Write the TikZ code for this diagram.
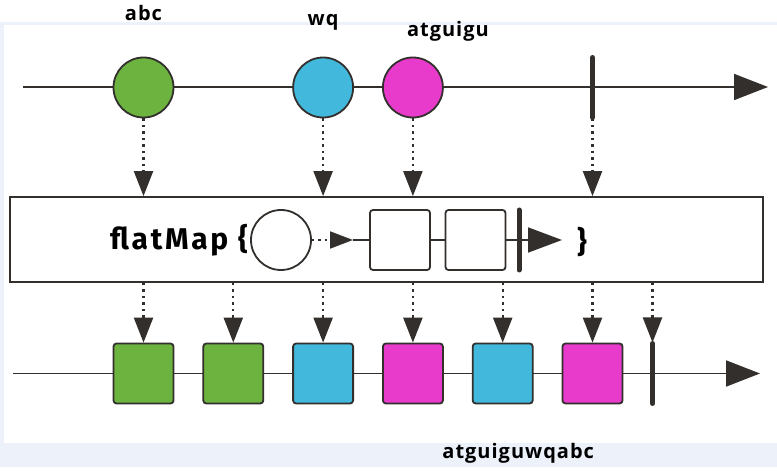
\documentclass[tikz,border=0pt]{standalone}
\usepackage{fontspec}
\newfontfamily\tagfont[LetterSpace=5]{Open Sans}
\newfontfamily\mapfont[LetterSpace=9]{Fira Sans}
\usetikzlibrary{positioning, arrows.meta}
\definecolor{mgreen}{RGB}{109,179,63}
\definecolor{mblue}{RGB}{66,184,221}
\definecolor{mpink}{RGB}{232,58,203}
\definecolor{mline}{RGB}{50,47,44}
\definecolor{mback}{RGB}{237,242,250}

\begin{document}
\begin{tikzpicture}[x=1pt,y=-1pt,node distance=89.8pt,on grid,
  marble/.style={circle,draw=mline,line width=1.8pt,minimum size=60pt,inner sep=0pt},
  item/.style={rectangle,rounded corners=3pt,draw=mline,line width=1.8pt,minimum size=60pt,inner sep=0pt},
  finish/.style={draw=mline,line width=5pt,line cap=round},
  flow/.style={draw=mline,line width=1.8pt},
  drop/.style={draw=mline,line width=2.2pt,dash pattern=on 2.5pt off 4pt,-{Triangle[length=25pt,width=19pt]}},
  tag/.style={font=\tagfont\bfseries\fontsize{20}{20}\selectfont,inner sep=0pt}]
  \useasboundingbox (0,0) rectangle (777,473);
  % 背景
  \fill[mback] (0,22) rectangle (777,467);
  \fill[white] (4,25) rectangle (777,443);

  % 两条时间轴
  \coordinate (t0) at (23,87);
  \coordinate (t1) at (768,87);
  \coordinate (b0) at (13,373.5);
  \coordinate (b1) at (760,373.5);
  \draw[flow,-{Triangle[length=34pt,width=26pt]}] (t0) -- (t1);
  \draw[flow,-{Triangle[length=34pt,width=26pt]}] (b0) -- (b1);

  % 输出：六个方块
  \node[item,fill=mgreen] (s1) at (143.5,373.5) {};
  \node[item,fill=mgreen] (s2) [right=of s1] {};
  \node[item,fill=mblue]  (s3) [right=of s2] {};
  \node[item,fill=mpink]  (s4) [right=of s3] {};
  \node[item,fill=mblue]  (s5) [right=of s4] {};
  \node[item,fill=mpink]  (s6) [right=of s5] {};
  \coordinate (e2) at ([xshift=60pt]s6);
  \draw[finish] ([yshift=30pt]e2) -- ([yshift=-30pt]e2);

  % 输入：三个圆
  \node[marble,fill=mgreen] (c1) [above=286pt of s1] {};
  \node[marble,fill=mblue]  (c2) [above=286pt of s3] {};
  \node[marble,fill=mpink]  (c3) [above=286pt of s4] {};
  \coordinate (e1) at (s6 |- c1);
  \draw[finish] ([yshift=30pt]e1) -- ([yshift=-30pt]e1);

  \node[tag] (nabc) [above=74pt of c1] {abc};
  \node[tag] (nwq)  [above=65pt of c2] {wq};
  \node[tag] (natg) [above right=56pt and 35pt of c3] {atguigu};
  \node[tag] (nout) [below right=79.5pt and 15.5pt of s5] {atguiguwqabc};

  % flatMap 框
  \node[draw=mline,line width=1.8pt,minimum width=753pt,minimum height=85pt,inner sep=0pt] (map) at (386.5,239.5) {};
  \node[marble,fill=white] (inner) at (281,240) {};
  \node[anchor=east,inner sep=0pt,font=\mapfont\bfseries\fontsize{30}{30}\selectfont] (fm) at ([xshift=-2pt]inner.west) {flatMap \{};
  \coordinate (a1) at (353,240);
  \node[item,fill=white] (r1) at (400,240) {};
  \node[item,fill=white] (r2) [right=75.5pt of r1] {};
  \coordinate (e3) at (519,240);
  \coordinate (a2) at (562,240);
  \node[inner sep=0pt,font=\mapfont\bfseries\fontsize{30}{30}\selectfont] (close) at (582,242) {\}};
  \draw[mline,line width=1.8pt,dash pattern=on 2.5pt off 4pt,-{Triangle[length=23pt,width=17pt]}] (inner) -- (a1);
  \draw[flow] (a1) -- (r1);
  \draw[flow] (r1) -- (r2);
  \draw[flow,-{Triangle[length=34pt,width=25pt]}] (r2) -- (a2);
  \draw[finish] ([yshift=30pt]e3) -- ([yshift=-30pt]e3);

  % 虚线箭头
  \foreach \n in {c1,c2,c3}
    \draw[drop] (\n) -- (\n |- map.north);
  \draw[drop] ([yshift=-31pt]e1) -- (e1 |- map.north);
  \foreach \n in {s1,s2,s3,s4,s5,s6}
    \draw[drop] (\n |- map.south) -- (\n);
  \draw[drop] (e2 |- map.south) -- ([yshift=31pt]e2);
\end{tikzpicture}
\end{document}
